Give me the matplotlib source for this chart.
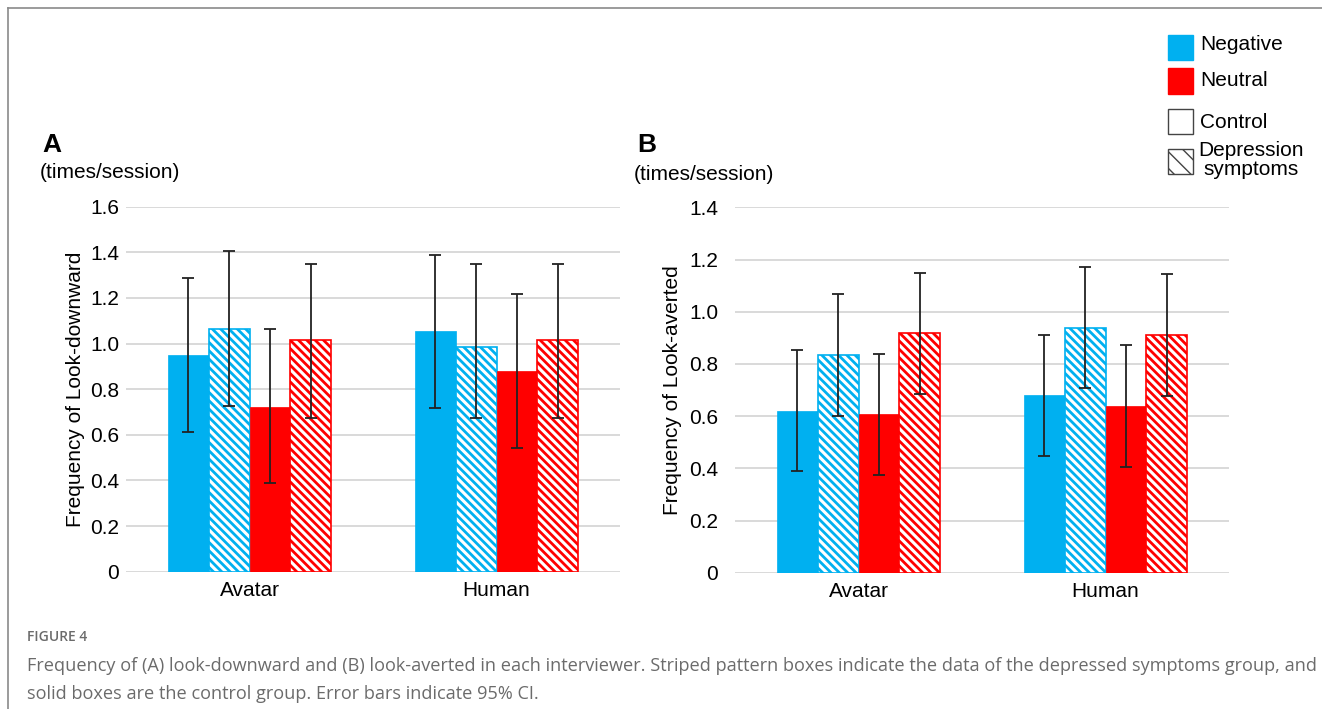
import matplotlib
matplotlib.use('Agg')
import matplotlib.pyplot as plt
from matplotlib.patches import Rectangle
from matplotlib.lines import Line2D
from matplotlib.ticker import FuncFormatter

plt.rcParams['font.family'] = ['Liberation Sans', 'DejaVu Sans']
plt.rcParams['hatch.linewidth'] = 2.0

categories = ['Avatar', 'Human']
series = ['Negative / Control', 'Negative / Depression',
          'Neutral / Control', 'Neutral / Depression']

# panel A: look-downward (times/session), mean and 95% CI bounds
down_mean = [[0.95, 1.053], [1.064, 0.983], [0.724, 0.879], [1.014, 1.014]]
down_lo   = [[0.612, 0.718], [0.728, 0.672], [0.387, 0.542], [0.672, 0.672]]
down_hi   = [[1.289, 1.389], [1.404, 1.349], [1.064, 1.219], [1.349, 1.349]]

# panel B: look-averted (times/session)
avert_mean = [[0.621, 0.681], [0.833, 0.939], [0.608, 0.639], [0.918, 0.912]]
avert_lo   = [[0.388, 0.448], [0.599, 0.708], [0.374, 0.405], [0.685, 0.676]]
avert_hi   = [[0.852, 0.912], [1.067, 1.171], [0.838, 0.872], [1.148, 1.143]]

C_BLUE = '#00B0F0'
C_RED = '#FF0000'
colors = [C_BLUE, C_BLUE, C_RED, C_RED]
hatched = [False, True, False, True]

fig = plt.figure(figsize=(13.22, 7.09), dpi=100)
W, H = 1322, 709


def px_axes(x0, y0, x1, y1):
    return fig.add_axes([x0 / W, 1 - y1 / H, (x1 - x0) / W, (y1 - y0) / H])


def draw_panel(ax, mean, lo, hi, ymax, ylabel, label_x, pad):
    width = 0.165
    xs = range(len(categories))
    for i in range(len(series)):
        pos = [x + (i - 1.5) * width for x in xs]
        if hatched[i]:
            ax.bar(pos, mean[i], width, facecolor='white', edgecolor=colors[i],
                   hatch='\\\\\\\\', linewidth=1.2, zorder=2)
        else:
            ax.bar(pos, mean[i], width, color=colors[i], edgecolor=colors[i],
                   linewidth=0.5, zorder=2)
        yerr = [[m - l for m, l in zip(mean[i], lo[i])],
                [h - m for m, h in zip(mean[i], hi[i])]]
        ax.errorbar(pos, mean[i], yerr=yerr, fmt='none', ecolor='#222222',
                    elinewidth=1.3, capsize=4, capthick=1.3, zorder=3)
    ax.set_xlim(-0.5, 1.5)
    ax.set_ylim(0, ymax)
    ax.set_yticks([v / 10 for v in range(0, int(round(ymax * 10)) + 1, 2)])
    ax.yaxis.set_major_formatter(FuncFormatter(lambda v, p: '0' if v == 0 else f'{v:.1f}'))
    ax.set_xticks(list(xs))
    ax.set_xticklabels(categories)
    ax.tick_params(axis='both', length=0, labelsize=15, colors='black')
    ax.tick_params(axis='y', pad=pad)
    ax.tick_params(axis='x', pad=7)
    ax.grid(axis='y', color='#d9d9d9', lw=1.4, zorder=0)
    ax.set_axisbelow(True)
    for s in ax.spines.values():
        s.set_visible(False)
    ax.set_ylabel(ylabel, fontsize=15)
    ax.yaxis.set_label_coords(label_x, 0.5)


axA = px_axes(126, 206.7, 620, 571.7)
draw_panel(axA, down_mean, down_lo, down_hi, 1.6, 'Frequency of Look-downward', -0.082, 5)
axB = px_axes(735, 207.3, 1229, 572.7)
draw_panel(axB, avert_mean, avert_lo, avert_hi, 1.4, 'Frequency of Look-averted', -0.107, 12)

# panel letters and units
fig.text(42 / W, 1 - 145 / H, 'A', fontsize=19, fontweight='bold', va='center')
fig.text(40 / W, 1 - 172 / H, '(times/session)', fontsize=15, va='center')
fig.text(637 / W, 1 - 145 / H, 'B', fontsize=19, fontweight='bold', va='center')
fig.text(634 / W, 1 - 175 / H, '(times/session)', fontsize=15, va='center')

# legend drawn in figure pixels
legend_items = [('Negative', C_BLUE, None, 47, 44), ('Neutral', C_RED, None, 81, 81),
                ('Control', 'white', None, 121, 122),
                ('Depression\nsymptoms', 'white', '\\\\', 161, 160)]
for text, fc, hatch, yc, ty in legend_items:
    edge = fc if fc != 'white' else '#444444'
    r = Rectangle((1168 / W, 1 - (yc + 12.5) / H), 24.5 / W, 25 / H, transform=fig.transFigure,
                  facecolor=fc, edgecolor=edge, hatch=hatch, lw=1.0)
    if hatch:
        try:
            r.set_hatch_linewidth(1.0)
        except AttributeError:
            pass
    fig.patches.append(r)
    if '\n' in text:
        fig.text(1251 / W, 1 - ty / H, text, fontsize=15, va='center', ha='center',
                 multialignment='center', linespacing=0.95)
    else:
        fig.text(1200 / W, 1 - ty / H, text, fontsize=15, va='center', ha='left')

# frame
fig.add_artist(Line2D([8 / W, 8 / W], [0, 1 - 8 / H], transform=fig.transFigure,
                      color='#8a8a8a', lw=1.2))
fig.add_artist(Line2D([8 / W, 1], [1 - 8 / H, 1 - 8 / H], transform=fig.transFigure,
                      color='#8a8a8a', lw=1.2))

# caption
cap_font = ['Open Sans', 'DejaVu Sans']
fig.text(27 / W, 1 - 637 / H, 'FIGURE 4', fontsize=10, color='#6b6b6b',
         family=cap_font, fontweight='semibold', va='center')
fig.text(27 / W, 1 - 666 / H,
         'Frequency of (A) look-downward and (B) look-averted in each interviewer. '
         'Striped pattern boxes indicate the data of the depressed symptoms group, and',
         fontsize=13.05, color='#6b6b6b', family=cap_font, va='center')
fig.text(27 / W, 1 - 694 / H,
         'solid boxes are the control group. Error bars indicate 95% CI.',
         fontsize=13.05, color='#6b6b6b', family=cap_font, va='center')

fig.savefig('out.png', dpi=100)
